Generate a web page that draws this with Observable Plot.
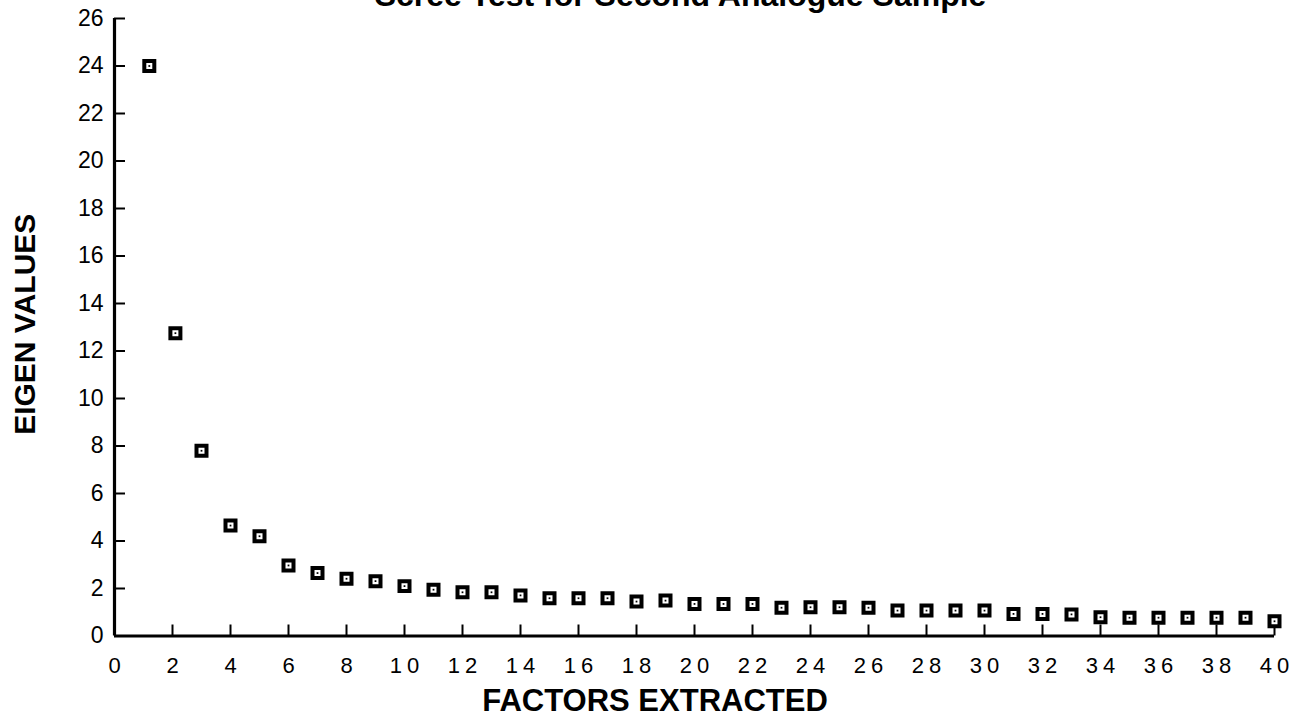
<!DOCTYPE html>
<html>
<head>
<meta charset="utf-8">
<script src="https://cdn.jsdelivr.net/npm/d3@7"></script>
<script src="https://cdn.jsdelivr.net/npm/@observablehq/plot@0.6"></script>
<style>
  html, body { margin: 0; padding: 0; background: #fff; }
  #chart svg g[aria-label="x-axis tick label"] { letter-spacing: 5px; }
</style>
</head>
<body>
<div id="chart"></div>
<script>
const titleText = "Scree Test for Second Analogue Sample";
const xLabel = "FACTORS EXTRACTED";
const yLabel = "EIGEN VALUES";

const factorPos = [1.2, 2.1, 3, 4, 5, 6, 7, 8, 9, 10,
  11, 12, 13, 14, 15, 16, 17, 18, 19, 20,
  21, 22, 23, 24, 25, 26, 27, 28, 29, 30,
  31, 32, 33, 34, 35, 36, 37, 38, 39, 40];

const eigenValues = [24.0, 12.75, 7.8, 4.65, 4.2, 2.97, 2.65, 2.41, 2.31, 2.1,
  1.95, 1.84, 1.84, 1.71, 1.59, 1.59, 1.59, 1.45, 1.49, 1.35,
  1.35, 1.35, 1.19, 1.21, 1.21, 1.19, 1.07, 1.07, 1.07, 1.07,
  0.93, 0.93, 0.91, 0.79, 0.77, 0.77, 0.77, 0.77, 0.77, 0.62];

const xTicks = [0, 2, 4, 6, 8, 10, 12, 14, 16, 18, 20, 22, 24, 26, 28, 30, 32, 34, 36, 38, 40];
const yTicks = [0, 2, 4, 6, 8, 10, 12, 14, 16, 18, 20, 22, 24, 26];

const data = factorPos.map((f, i) => ({factor: f, eigen: eigenValues[i]}));

const W = 1297, H = 718;
const mL = 114, mR = 23, mT = 18, mB = 82.5;
const tickLen = 11;
const frameW = W - mL - mR;
const frameH = H - mT - mB;

const chart = Plot.plot({
  width: W,
  height: H,
  marginLeft: mL,
  marginRight: mR,
  marginTop: mT,
  marginBottom: mB,
  x: {domain: [0, 40]},
  y: {domain: [0, 26]},
  style: {fontFamily: "'Liberation Sans', Arial, Helvetica, sans-serif", background: "#fff", color: "#000"},
  marks: [
    Plot.axisY(yTicks, {tickSize: 0, tickPadding: 11, fontSize: 23, label: null}),
    Plot.axisX(xTicks, {tickSize: 0, tickPadding: 21, fontSize: 22, dx: 2.5, label: null}),
    // inward tick marks
    Plot.tickY(yTicks, {y: d => d, insetRight: frameW - tickLen, strokeWidth: 2}),
    Plot.tickX(xTicks.filter(d => d > 0), {x: d => d, insetTop: frameH - tickLen, strokeWidth: 2}),
    Plot.ruleX([0], {strokeWidth: 3.2}),
    Plot.ruleY([0], {strokeWidth: 3}),
    Plot.dot(data, {x: "factor", y: "eigen", symbol: "square", r: 5.64, stroke: "#000", strokeWidth: 4, fill: "#fff"}),
    Plot.dot(data, {x: "factor", y: "eigen", symbol: "square", r: 1, fill: "#000"}),
    Plot.text([titleText], {frameAnchor: "top", textAnchor: "middle", lineAnchor: "bottom", dy: -13, dx: -14, fontSize: 32, fontWeight: "bold"}),
    Plot.text([xLabel], {frameAnchor: "bottom", textAnchor: "middle", lineAnchor: "bottom", dy: 75, dx: -39.5, fontSize: 31, fontWeight: "bold"}),
    Plot.text([yLabel], {frameAnchor: "left", textAnchor: "middle", rotate: -90, dx: -89, dy: -3, fontSize: 30, fontWeight: "bold"})
  ]
});

document.getElementById("chart").appendChild(chart);
</script>
</body>
</html>
